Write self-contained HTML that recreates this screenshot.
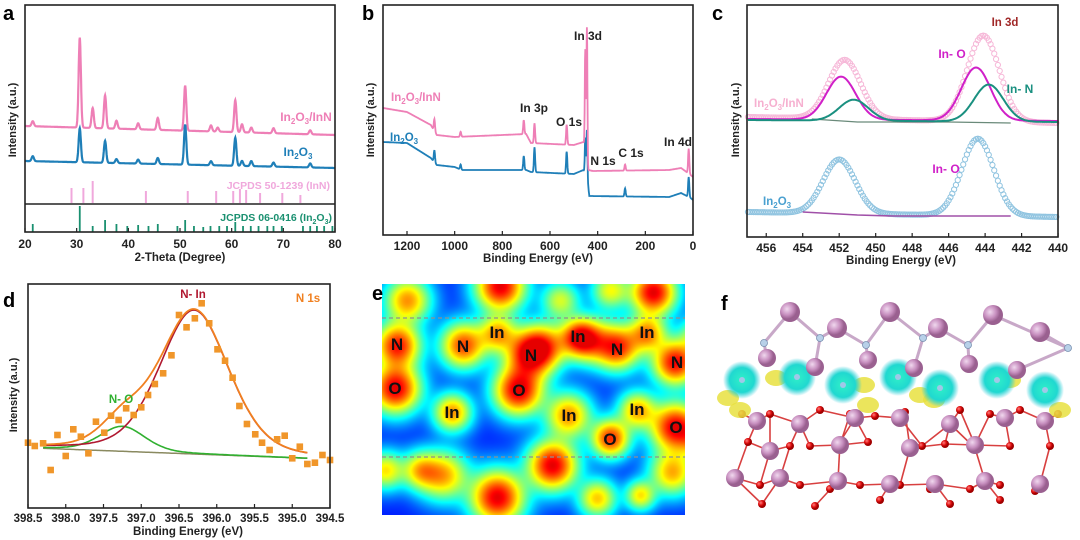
<!DOCTYPE html>
<html><head><meta charset="utf-8"><style>
html,body{margin:0;padding:0;background:#fff;}
body{position:relative;width:1080px;height:540px;overflow:hidden;}
#heat{position:absolute;left:382px;top:284px;z-index:0;}
svg{position:absolute;left:0;top:0;z-index:1;display:block;font-family:"Liberation Sans",Arial,sans-serif;}
text{font-weight:bold;}
</style></head><body>
<canvas id="heat" width="303" height="231"></canvas>
<svg id="fig" width="1080" height="540" viewBox="0 0 1080 540">
<defs>
<radialGradient id="gCyan"><stop offset="0" stop-color="#30f0c8"/><stop offset="0.65" stop-color="#20d8d0"/><stop offset="1" stop-color="#20c8d8" stop-opacity="0"/></radialGradient>
<radialGradient id="gIn" cx="0.35" cy="0.35"><stop offset="0" stop-color="#f0d8ee"/><stop offset="0.6" stop-color="#c890c0"/><stop offset="1" stop-color="#9a6090"/></radialGradient>
<radialGradient id="gO" cx="0.35" cy="0.35"><stop offset="0" stop-color="#ff8080"/><stop offset="0.6" stop-color="#e01010"/><stop offset="1" stop-color="#a00000"/></radialGradient>
</defs>
</svg>
<script>
// ---------- DATA ----------
const xrdPinkPos=[30.6,33.1,35.5,37.7,41.9,45.7,51.0,56.0,57.3,60.7,62.0,63.8,68.1,21.5,75.2];
const xrdPinkH=[90,20,33,8,6,12,45,6,4,32,8,5,5,5,4];
const xrdBluePos=[30.6,35.5,37.7,41.9,45.7,51.0,56.0,60.7,62.0,63.8,68.1,21.5,75.2];
const xrdBlueH=[34,22,4,4,6,40,4,28,5,5,4,5,4];
const inNSticks=[29.0,31.3,33.1,43.4,51.5,57.0,60.3,61.6,62.8,65.5,69.8,73.3];
const inNStickH=[15,15,22,12,12,12,12,14,13,10,10,8];
const in2o3Sticks=[21.5,30.6,33.1,35.5,37.7,39.8,41.9,43.9,45.7,49.5,51.0,52.7,54.5,55.9,57.6,59.1,60.7,62.2,63.7,65.2,66.9,68.1,69.7,73.8,75.2,76.5,77.9,79.5];
const in2o3StickH=[8,26,6,12,8,6,7,6,8,6,12,6,5,6,6,6,10,6,6,6,6,6,6,6,6,6,6,6];
const xrdTicks=[20,30,40,50,60,70,80];
const surveyPinkBase=[[1300,108],[1200,112],[1100,125],[1075,135],[1000,137],[900,136],[700,134],[680,143],[500,145],[460,142],[450,145],[440,170],[420,171],[100,170],[50,168],[10,175],[0,177]];
const surveyBlueBase=[[1300,142],[1200,143],[1100,158],[1075,165],[1000,167],[970,170],[700,170],[680,172],[500,174],[460,170],[445,175],[435,196],[100,197],[50,193],[10,198],[0,200]];
const surveyPeakPos=[1085,975,710,665,530,452,445,285,18];
const surveyPinkH=[12,5,14,20,20,95,130,6,25];
const surveyBlueH=[12,5,14,25,22,35,45,8,20];
const surveyTicks=[1200,1000,800,600,400,200,0];
const c3dTicks=[456,454,452,450,448,446,444,442,440];
const c3dPinkPos=[451.7,444.1], c3dPinkH=[59,86];
const c3dInOPos=[451.9,444.5], c3dInOH=[43,53];
const c3dInNPos=[451.2,443.8], c3dInNH=[21,37];
const c3dBluePos=[452.0,444.4], c3dBlueH=[54,77];
const n1sBE=[398.50,398.41,398.30,398.20,398.11,398.00,397.90,397.80,397.70,397.60,397.49,397.40,397.30,397.20,397.10,397.00,396.91,396.82,396.71,396.60,396.50,396.40,396.29,396.20,396.10,395.99,395.89,395.79,395.70,395.60,395.49,395.40,395.30,395.20,395.10,395.00,394.90,394.80,394.70,394.60,394.50];
const n1sI=[7.3,4,6.7,-20,15,-6,20.7,13.3,-3.3,28.3,17.3,34.3,30,41.7,35,42.7,55,66,76.7,94.7,135,122.7,131.7,146.7,126.7,100.7,89.3,72.3,44,26,15.7,7.3,0,10.7,14.3,-8.3,3.3,-14,-12.7,-5,-10];
const n1sTicks=[398.5,398.0,397.5,397.0,396.5,396.0,395.5,395.0,394.5];
const nInPeak=[396.3,144,0.46], nOPeak=[397.25,25,0.3];

// ---------- helpers ----------
const NS='http://www.w3.org/2000/svg';
const svg=document.getElementById('fig');
function mk(tag,attrs,parent){const e=document.createElementNS(NS,tag);for(const k in attrs)e.setAttribute(k,attrs[k]);(parent||svg).appendChild(e);return e;}
function txt(x,y,s,size,fill,anchor,parent){const t=mk('text',{x:x,y:y,'font-size':size,fill:fill,'text-anchor':anchor||'middle'},parent);t.textContent=s;return t;}
function gauss(x,c,s){return Math.exp(-(x-c)*(x-c)/(2*s*s));}
function pathD(pts){return pts.map((p,i)=>(i?'L':'M')+p[0].toFixed(1)+' '+p[1].toFixed(1)).join(' ');}
function interpBase(base,e){for(let i=0;i<base.length-1;i++){const a=base[i],b=base[i+1];if(e<=a[0]&&e>=b[0]){const t=(a[0]-e)/(a[0]-b[0]);return a[1]+t*(b[1]-a[1]);}}return base[base.length-1][1];}

// ================= PANEL A =================
const xa=t=>25+(t-20)*310/60;
let t=txt(3,20,'a',20,'#000','start');
function xrdLine(pos,h,b0,b1,col,name){const pts=[];for(let q=20;q<=80;q+=0.05){let y=b0+(b1-b0)*(q-20)/60;for(let i=0;i<pos.length;i++)y-=h[i]*gauss(q,pos[i],0.22);pts.push([xa(q),y]);}
const p=mk('path',{d:pathD(pts),fill:'none',stroke:col,'stroke-width':2.2});

}
xrdLine(xrdPinkPos,xrdPinkH,126,135,'#ee7fb6','xrd-in2o3-inn-line');
xrdLine(xrdBluePos,xrdBlueH,161,168,'#1f7fb8','xrd-in2o3-line');
inNSticks.forEach((s,i)=>{const l=mk('line',{x1:xa(s),x2:xa(s),y1:203,y2:203-inNStickH[i],stroke:'#f0a8dc','stroke-width':2});

});
in2o3Sticks.forEach((s,i)=>{const l=mk('line',{x1:xa(s),x2:xa(s),y1:232,y2:232-in2o3StickH[i],stroke:'#1a9070','stroke-width':1.8});

});
let fr=mk('rect',{x:25,y:5,width:310,height:227,fill:'none',stroke:'#222','stroke-width':1.6});


mk('line',{x1:25,x2:335,y1:204,y2:204,stroke:'#222','stroke-width':1.4});
xrdTicks.forEach(v=>{mk('line',{x1:xa(v),x2:xa(v),y1:232,y2:228,stroke:'#222','stroke-width':1.2});const l=txt(xa(v),248,String(v),12,'#222');

});
t=txt(180,261,'2-Theta (Degree)',11.5,'#222');
t=txt(0,0,'Intensity (a.u.)',11,'#222');t.setAttribute('transform','translate(16,120) rotate(-90)');
t=txt(306,121,'',12,'#ee7fb6');t.innerHTML='In<tspan font-size="8" dy="3">2</tspan><tspan dy="-3">O</tspan><tspan font-size="8" dy="3">3</tspan><tspan dy="-3">/InN</tspan>';
t=txt(298,156,'',12,'#1f7fb8');t.innerHTML='In<tspan font-size="8" dy="3">2</tspan><tspan dy="-3">O</tspan><tspan font-size="8" dy="3">3</tspan>';
t=txt(330,189,'JCPDS 50-1239 (InN)',10.5,'#f0a8dc','end');
t=txt(332,221,'',10.5,'#1a9070','end');t.innerHTML='JCPDS 06-0416 (In<tspan font-size="7" dy="3">2</tspan><tspan dy="-3">O</tspan><tspan font-size="7" dy="3">3</tspan><tspan dy="-3">)</tspan>';

// ================= PANEL B =================
const xb=e=>693-e*286/1200;
t=txt(362,20,'b',20,'#000','start');
function surveyLine(base,h,col,name){const pts=[];for(let e=1300;e>=0;e-=1){let y=interpBase(base,e);for(let i=0;i<surveyPeakPos.length;i++)y-=h[i]*gauss(e,surveyPeakPos[i],surveyPeakPos[i]>440&&surveyPeakPos[i]<460?2:2.5);pts.push([xb(e),y]);}
const p=mk('path',{d:pathD(pts),fill:'none',stroke:col,'stroke-width':1.8});

}
surveyLine(surveyBlueBase,surveyBlueH,'#1f7fb8','survey-in2o3-line');
surveyLine(surveyPinkBase,surveyPinkH,'#ee7fb6','survey-in2o3-inn-line');
fr=mk('rect',{x:383,y:5,width:310,height:230,fill:'none',stroke:'#222','stroke-width':1.6});


surveyTicks.forEach(v=>{mk('line',{x1:xb(v),x2:xb(v),y1:235,y2:231,stroke:'#222','stroke-width':1.2});const l=txt(xb(v),250,String(v),12,'#222');

});
t=txt(538,262,'Binding Energy (eV)',11.5,'#222');
t=txt(0,0,'Intensity (a.u.)',11,'#222');t.setAttribute('transform','translate(374,120) rotate(-90)');
[['In 3d',588,40],['In 3p',534,112],['O 1s',569,126],['N 1s',603,165],['C 1s',631,157],['In 4d',678,146]].forEach(a=>{const l=txt(a[1],a[2],a[0],12,'#222');

});
t=txt(391,101,'',11.5,'#ee7fb6','start');t.innerHTML='In<tspan font-size="8" dy="3">2</tspan><tspan dy="-3">O</tspan><tspan font-size="8" dy="3">3</tspan><tspan dy="-3">/InN</tspan>';
t=txt(390,141,'',11.5,'#1f7fb8','start');t.innerHTML='In<tspan font-size="8" dy="3">2</tspan><tspan dy="-3">O</tspan><tspan font-size="8" dy="3">3</tspan>';

// ================= PANEL C =================
const xc=e=>748+(457-e)*18.24;
t=txt(712,20,'c',20,'#000','start');
function sumG(e,pos,h,s){let v=0;for(let i=0;i<pos.length;i++)v+=h[i]*gauss(e,pos[i],s);return v;}
function cLine(pos,h,b0,b1,col,w,name){const pts=[];for(let e=457;e>=440;e-=0.05){pts.push([xc(e),b0+(b1-b0)*(457-e)/17-sumG(e,pos,h,0.8)]);}
const p=mk('path',{d:pathD(pts),fill:'none',stroke:col,'stroke-width':w});

}
function cCircles(pos,h,b0,b1,col,name){const g=mk('g',{});


for(let e=457;e>=440;e-=0.1){mk('circle',{cx:xc(e),cy:b0+(b1-b0)*(457-e)/17-sumG(e,pos,h,0.88),r:2.6,fill:'none',stroke:col,'stroke-width':1},g);}}
cCircles(c3dPinkPos,c3dPinkH,117,123,'#f6b8d8','in3d-in2o3-inn-data');
let bl=mk('path',{d:pathD([[xc(453.5),119],[xc(451),122],[xc(446),122],[xc(442.6),123]]),fill:'none',stroke:'#6a8a7a','stroke-width':1.3});


cLine(c3dInOPos,c3dInOH,119,121,'#d020c8',2,'in3d-in-o-fit');
cLine(c3dInNPos,c3dInNH,120,122,'#1a9080',2,'in3d-in-n-fit');
cCircles(c3dBluePos,c3dBlueH,212,217,'#90c4e0','in3d-in2o3-data');
bl=mk('path',{d:pathD([[xc(454),212],[xc(451),215],[xc(449),216],[xc(442.6),216]]),fill:'none',stroke:'#a050a8','stroke-width':1.6});


fr=mk('rect',{x:747,y:5,width:311,height:232,fill:'none',stroke:'#222','stroke-width':1.6});


c3dTicks.forEach(v=>{mk('line',{x1:xc(v),x2:xc(v),y1:237,y2:233,stroke:'#222','stroke-width':1.2});const l=txt(xc(v),252,String(v),12,'#222');

});
t=txt(901,264,'Binding Energy (eV)',11.5,'#222');
t=txt(0,0,'Intensity (a.u.)',11,'#222');t.setAttribute('transform','translate(739,120) rotate(-90)');
t=txt(1005,26,'In 3d',11.5,'#a02828');
t=txt(952,58,'In- O',12,'#d020c8');
t=txt(1020,93,'In- N',12,'#1a9080');
t=txt(946,173,'In- O',12,'#d020c8');
t=txt(754,107,'',11.5,'#f6b0d0','start');t.innerHTML='In<tspan font-size="8" dy="3">2</tspan><tspan dy="-3">O</tspan><tspan font-size="8" dy="3">3</tspan><tspan dy="-3">/InN</tspan>';
t=txt(763,205,'',11.5,'#4aa0d0','start');t.innerHTML='In<tspan font-size="8" dy="3">2</tspan><tspan dy="-3">O</tspan><tspan font-size="8" dy="3">3</tspan>';

// ================= PANEL D =================
const xd=e=>28+(398.5-e)*75.5;
const yd=v=>450-v;
const baseD=e=>1.7+(-10)*(398.3-e)/3.5;
t=txt(3,307,'d',20,'#000','start');
function pv(e,c,a,s){return a*(0.7*gauss(e,c,s)+0.3/(1+((e-c)/(1.18*s))**2));}
const bgP=[],nOP=[],nInP=[],envP=[];
for(let e=398.3;e>=394.8;e-=0.02){const b=baseD(e);bgP.push([xd(e),yd(b)]);nOP.push([xd(e),yd(b+pv(e,nOPeak[0],nOPeak[1],nOPeak[2]))]);nInP.push([xd(e),yd(b+pv(e,nInPeak[0],nInPeak[1],nInPeak[2]))]);envP.push([xd(e),yd(b+pv(e,nOPeak[0],nOPeak[1],nOPeak[2])+pv(e,nInPeak[0],nInPeak[1],nInPeak[2]))]);}
[[bgP,'#8a8a60',1.5,'n1s-background'],[nOP,'#30b030',1.6,'n1s-n-o-fit'],[nInP,'#b01830',1.6,'n1s-n-in-fit'],[envP,'#f08020',1.8,'n1s-envelope']].forEach(a=>{const p=mk('path',{d:pathD(a[0]),fill:'none',stroke:a[1],'stroke-width':a[2]});

});
n1sBE.forEach((e,i)=>{const r=mk('rect',{x:xd(e)-3.3,y:yd(n1sI[i])-3.3,width:6.6,height:6.6,fill:'#f0962a'});

});
fr=mk('rect',{x:28,y:284,width:302,height:224,fill:'none',stroke:'#222','stroke-width':1.6});


n1sTicks.forEach(v=>{mk('line',{x1:xd(v),x2:xd(v),y1:508,y2:504,stroke:'#222','stroke-width':1.2});const l=txt(xd(v),522,v.toFixed(1),11.5,'#222');

});
t=txt(188,535,'Binding Energy (eV)',11.5,'#222');
t=txt(0,0,'Intensity (a.u.)',11,'#222');t.setAttribute('transform','translate(17,395) rotate(-90)');
t=txt(193,298,'N- In',11.5,'#b01830');
t=txt(308,302,'N 1s',11.5,'#f08020');
t=txt(121,403,'N- O',11.5,'#30b030');

// ================= PANEL E (charge density map) =================
const blobX=[500,653,397,395,530,518,675,675,610,552,497,463,497,578,617,647,452,568,637,443,672,597,407,420,640,545,700,590,700,610,560,385];
const blobY=[286,292,345,388,353,390,362,427,438,465,497,345,333,337,347,333,412,415,410,475,472,498,300,470,495,345,335,340,440,290,300,470];
const blobA=[1.0,1.0,0.9,1.0,1.0,1.0,0.95,1.0,0.85,1.0,1.0,0.8,0.6,0.75,0.85,0.65,0.65,0.65,0.6,0.6,0.6,0.55,0.65,0.5,0.5,0.5,0.5,0.55,0.5,0.45,0.4,0.5];
const blobS=[13,12,12,13,13,13,12,13,10,13,14,12,10,10,12,10,10,12,10,13,12,10,12,10,8,12,10,12,10,10,10,10];
t=txt(372,300,'e',20,'#000','start');
(function(){const cv=document.getElementById('heat');const ctx=cv.getContext('2d');const W=cv.width,H=cv.height;const im=ctx.createImageData(W,H);
function jet(v){v=Math.max(0,Math.min(1,v));const r=Math.max(0,Math.min(1,1.5-Math.abs(4*v-3))),g=Math.max(0,Math.min(1,1.5-Math.abs(4*v-2))),b=Math.max(0,Math.min(1,1.5-Math.abs(4*v-1)));return [r*255,g*255,b*255];}
for(let y=0;y<H;y++)for(let x=0;x<W;x++){const px=x+382,py=y+284;let f=0;for(let i=0;i<blobX.length;i++){const dx=px-blobX[i],dy=py-blobY[i];f+=blobA[i]*Math.exp(-(dx*dx+dy*dy)/(2*blobS[i]*blobS[i]*1.4));}
f=Math.min(f,1);const c=jet(0.15+0.75*Math.pow(f,0.6));const k=(y*W+x)*4;im.data[k]=c[0];im.data[k+1]=c[1];im.data[k+2]=c[2];im.data[k+3]=255;}
ctx.putImageData(im,0,0);})();
mk('line',{x1:382,x2:685,y1:318,y2:318,stroke:'#909090','stroke-width':1.3,'stroke-dasharray':'4 3'});
mk('line',{x1:382,x2:685,y1:457,y2:457,stroke:'#909090','stroke-width':1.3,'stroke-dasharray':'4 3'});
const atomLab=['N','N','In','N','In','N','In','N','O','O','In','In','In','O','O'];
const atomLx=[397,463,497,531,578,617,647,677,395,519,452,569,637,610,676];
const atomLy=[350,352,338,361,342,355,338,368,394,396,418,421,415,445,433];
atomLab.forEach((s,i)=>{const l=txt(atomLx[i],atomLy[i],s,17,'#111');l.setAttribute('font-weight','normal');

});

// ================= PANEL F (structure) =================
t=txt(721,310,'f',20,'#000','start');
const gf=mk('g',{});


const topInX=[790,837,890,938,993,1040], topInY=[312,328,312,328,315,332];
const topNX=[764,820,866,923,968,1068], topNY=[343,338,345,338,345,348];
const midInX=[767,815,868,914,969,1017], midInY=[358,367,360,368,364,370];
const cyanX=[742,797,843,898,940,997,1045], cyanY=[380,377,385,377,388,380,390];
const yellowX=[728,776,864,868,934,1010,1060,740,920], yellowY=[398,378,385,405,400,380,410,410,395];
for(let i=0;i<6;i++){mk('line',{x1:topInX[i],y1:topInY[i],x2:topNX[i],y2:topNY[i],stroke:'#c8a8c8','stroke-width':3},gf);if(i<5)mk('line',{x1:topInX[i],y1:topInY[i],x2:topNX[i+1],y2:topNY[i+1],stroke:'#c8a8c8','stroke-width':3},gf);mk('line',{x1:topNX[i],y1:topNY[i],x2:midInX[i],y2:midInY[i],stroke:'#c8a8c8','stroke-width':3},gf);}
const latX=[],latY=[],oX=[],oY=[];
const rowsIn=[[757,800,855,900,950,1005,1045],[770,840,910,975],[735,780,838,890,935,985,1040]], rowsInY=[418,445,478];
rowsIn.forEach((r,j)=>r.forEach(x=>{latX.push(x);latY.push(rowsInY[j]+(x%3)*3);}));
const oRows=[[742,770,820,850,875,905,960,990,1020,1058],[748,790,810,840,868,922,945,975,1010,1050],[760,800,830,860,900,930,970,1000,1035],[762,815,880,950,1000]], oRowY=[410,442,485,500];
oRows.forEach((r,j)=>r.forEach(x=>{oX.push(x);oY.push(oRowY[j]+(x%4)*2);}));
latX.forEach((x,i)=>{oX.forEach((ox,k)=>{const d=Math.hypot(ox-x,oY[k]-latY[i]);if(d<40)mk('line',{x1:x,y1:latY[i],x2:ox,y2:oY[k],stroke:'#d84040','stroke-width':1.6},gf);});});
oX.forEach((x,i)=>{const c=mk('circle',{cx:x,cy:oY[i],r:4,fill:'url(#gO)'},gf);

});
latX.forEach((x,i)=>{const c=mk('circle',{cx:x,cy:latY[i],r:9,fill:'url(#gIn)'},gf);

});
yellowX.forEach((x,i)=>{mk('ellipse',{cx:x,cy:yellowY[i],rx:11,ry:8,fill:'#e8e040',opacity:0.85},gf);});
cyanX.forEach((x,i)=>{const c=mk('circle',{cx:x,cy:cyanY[i],r:19,fill:'url(#gCyan)'},gf);


mk('circle',{cx:x,cy:cyanY[i],r:3,fill:'#a0c8e8'},gf);});
midInX.forEach((x,i)=>{const c=mk('circle',{cx:x,cy:midInY[i],r:9,fill:'url(#gIn)'},gf);

});
topNX.forEach((x,i)=>{const c=mk('circle',{cx:x,cy:topNY[i],r:3.5,fill:'#b8d0e8',stroke:'#7890b0','stroke-width':0.8},gf);

});
topInX.forEach((x,i)=>{const c=mk('circle',{cx:x,cy:topInY[i],r:10,fill:'url(#gIn)'},gf);

});
</script>
</body></html>
